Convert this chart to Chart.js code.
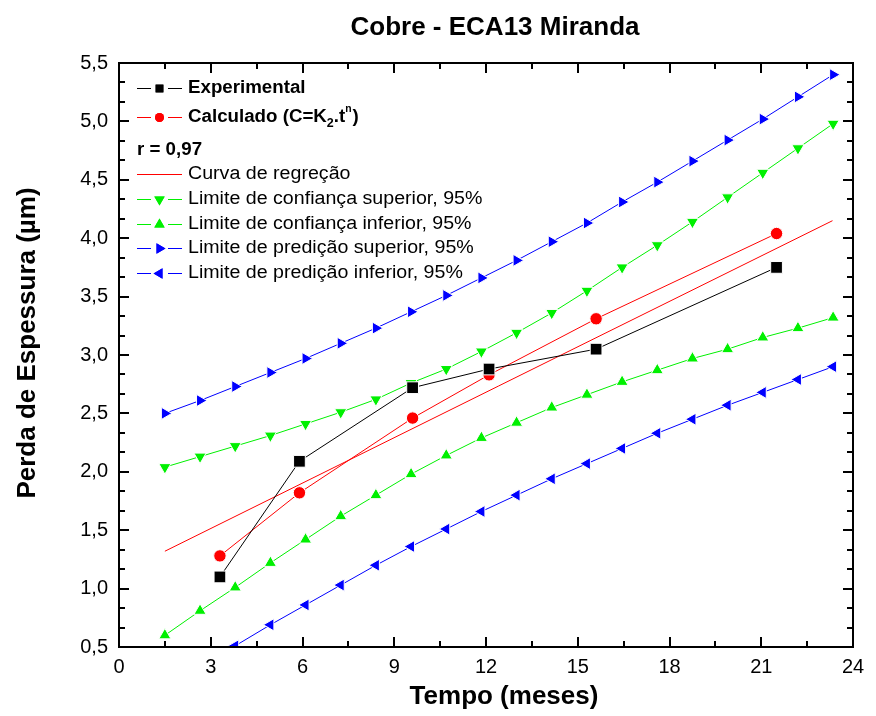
<!DOCTYPE html>
<html>
<head>
<meta charset="utf-8">
<title>Cobre - ECA13 Miranda</title>
<script src="https://cdn.jsdelivr.net/npm/chart.js@4/dist/chart.umd.min.js"></script>
<style>
  html, body { margin: 0; padding: 0; background: #fff; }
  canvas { display: block; }
</style>
</head>
<body>
<canvas id="chart" width="876" height="716"></canvas>
<script>
// measured points (tempo in meses, perda in um)
const tempoMedido = [3.3, 5.9, 9.6, 12.1, 15.6, 21.5];
const experimental = [1.10, 2.09, 2.72, 2.88, 3.05, 3.75];
const calculado = [1.28, 1.82, 2.46, 2.83, 3.31, 4.04];

// regression line end points
const tempoRegressao = [1.5, 23.33];
const regressao = [1.32, 4.15];

// x positions of the confidence / prediction band points
const tempoFaixa = [1.50, 2.65, 3.80, 4.95, 6.10, 7.25, 8.40, 9.55, 10.70, 11.85,
                    13.00, 14.15, 15.30, 16.45, 17.60, 18.75, 19.90, 21.05, 22.20, 23.35];
const confSuperior = [2.04, 2.13, 2.22, 2.31, 2.41, 2.51, 2.62, 2.76, 2.88, 3.03,
                      3.19, 3.36, 3.55, 3.75, 3.94, 4.14, 4.35, 4.56, 4.77, 4.98];
const confInferior = [0.60, 0.81, 1.01, 1.22, 1.42, 1.62, 1.80, 1.98, 2.14, 2.29,
                      2.42, 2.55, 2.66, 2.77, 2.87, 2.97, 3.05, 3.15, 3.23, 3.32];
const predSuperior = [2.50, 2.61, 2.73, 2.85, 2.97, 3.10, 3.23, 3.37, 3.51, 3.66,
                      3.81, 3.97, 4.13, 4.31, 4.48, 4.66, 4.84, 5.02, 5.21, 5.40];
const predInferior = [0.16, 0.34, 0.51, 0.69, 0.86, 1.03, 1.20, 1.36, 1.51, 1.66,
                      1.80, 1.94, 2.07, 2.20, 2.33, 2.45, 2.57, 2.68, 2.79, 2.90];

const xTickStep = 3;
const yTickStep = 0.5;

const GREEN = '#00f000';
const BLUE = '#0000ff';
const RED = '#ff0000';
const FONT = '"Liberation Sans", Arial, sans-serif';

function pairs(xs, ys) {
  return xs.map((x, i) => ({ x: x, y: ys[i] }));
}

function serie(label, xs, ys, color, style, rotation, radius) {
  return {
    label: label,
    data: pairs(xs, ys),
    borderColor: color,
    backgroundColor: color,
    borderWidth: 1,
    pointStyle: style,
    rotation: rotation,
    pointRadius: radius,
    pointBackgroundColor: color,
    pointBorderColor: '#ffffff',
    pointBorderWidth: style === false ? 0 : 1,
    tension: 0
  };
}

// draw text stretched horizontally a bit, like the original export
function drawText(ctx, text, x, y, font, sx) {
  ctx.save();
  ctx.translate(x, y);
  ctx.scale(sx, 1);
  ctx.font = font;
  ctx.fillText(text, 0, 0);
  const w = ctx.measureText(text).width * sx;
  ctx.restore();
  return w;
}

function legendMarker(ctx, style, rotation, radius, color, x, y) {
  ctx.save();
  ctx.fillStyle = color;
  ctx.strokeStyle = color;
  Chart.helpers.drawPoint(ctx, { pointStyle: style, rotation: rotation, radius: radius, borderWidth: 0 }, x, y);
  ctx.fill();
  ctx.restore();
}

const legendRows = [
  { y: 88.5, color: '#000', style: 'rect', rot: 0, r: 5.5, text: 'Experimental', bold: true },
  { y: 117.5, color: RED, style: 'circle', rot: 0, r: 4.5, text: null, bold: true },
  { y: 150, text: 'r = 0,97', bold: true, plain: true },
  { y: 174.5, color: RED, style: null, text: 'Curva de regreção' },
  { y: 199.5, color: GREEN, style: 'triangle', rot: 180, r: 6, text: 'Limite de confiança superior, 95%' },
  { y: 224.5, color: GREEN, style: 'triangle', rot: 0, r: 6, text: 'Limite de confiança inferior, 95%' },
  { y: 248.5, color: BLUE, style: 'triangle', rot: 90, r: 6, text: 'Limite de predição superior, 95%' },
  { y: 273.5, color: BLUE, style: 'triangle', rot: 270, r: 6, text: 'Limite de predição inferior, 95%' }
];

const decorPlugin = {
  id: 'decor',
  afterDraw(chart) {
    const ctx = chart.ctx;
    const area = chart.chartArea;
    const xs = chart.scales.x;
    const ys = chart.scales.y;
    ctx.save();

    // frame and inward ticks on all four sides
    ctx.strokeStyle = '#000';
    ctx.lineWidth = 2;
    ctx.strokeRect(area.left, area.top, area.right - area.left, area.bottom - area.top);
    ctx.beginPath();
    for (let k = 0; k <= 16; k++) {
      const v = k * xTickStep / 2;
      const px = Math.round(xs.getPixelForValue(v));
      const len = k % 2 === 0 ? 10 : 6;
      ctx.moveTo(px, area.bottom);
      ctx.lineTo(px, area.bottom - len);
      ctx.moveTo(px, area.top);
      ctx.lineTo(px, area.top + len);
    }
    for (let k = 0; k <= 30; k++) {
      const v = 0.5 + k * yTickStep / 3;
      const py = Math.round(ys.getPixelForValue(v));
      const len = k % 3 === 0 ? 10 : 6;
      ctx.moveTo(area.left, py);
      ctx.lineTo(area.left + len, py);
      ctx.moveTo(area.right, py);
      ctx.lineTo(area.right - len, py);
    }
    ctx.stroke();

    // titles
    ctx.fillStyle = '#000';
    ctx.textBaseline = 'middle';
    ctx.textAlign = 'center';
    ctx.font = 'bold 26px ' + FONT;
    ctx.fillText('Cobre - ECA13 Miranda', 495, 28);
    ctx.fillText('Tempo (meses)', 504, 697);
    ctx.save();
    ctx.translate(28, 343);
    ctx.rotate(-Math.PI / 2);
    ctx.fillText('Perda de Espessura (\u00b5m)', 0, 0);
    ctx.restore();

    // legend
    ctx.textAlign = 'left';
    const boldFont = 'bold 18px ' + FONT;
    const normFont = '18px ' + FONT;
    legendRows.forEach(row => {
      const tx = row.plain ? 137 : 188;
      if (!row.plain) {
        ctx.strokeStyle = row.color;
        ctx.lineWidth = 1;
        ctx.beginPath();
        if (row.style) {
          ctx.moveTo(137, row.y); ctx.lineTo(151, row.y);
          ctx.moveTo(168, row.y); ctx.lineTo(182, row.y);
        } else {
          ctx.moveTo(137, row.y); ctx.lineTo(182, row.y);
        }
        ctx.stroke();
        if (row.style) legendMarker(ctx, row.style, row.rot, row.r, row.color, 159.5, row.y);
      }
      ctx.fillStyle = '#000';
      if (row.text) {
        drawText(ctx, row.text, tx, row.y, row.bold ? boldFont : normFont, row.bold ? 1.04 : 1.09);
      } else {
        // Calculado (C=K2.t^n)
        let x = tx;
        x += drawText(ctx, 'Calculado (C=K', x, row.y, boldFont, 1.04);
        x += drawText(ctx, '2', x, row.y + 6, 'bold 12px ' + FONT, 1.04);
        x += drawText(ctx, '.t', x, row.y, boldFont, 1.04);
        x += drawText(ctx, 'n', x, row.y - 8, 'bold 10px ' + FONT, 1.04);
        drawText(ctx, ')', x + 1, row.y, boldFont, 1.04);
      }
    });
    ctx.restore();
  }
};

const datasets = [
  serie('Experimental', tempoMedido, experimental, '#000000', 'rect', 0, 8.3),
  serie('Calculado', tempoMedido, calculado, RED, 'circle', 0, 6.2),
  serie('Curva de regreção', tempoRegressao, regressao, RED, false, 0, 0),
  serie('Limite de confiança superior, 95%', tempoFaixa, confSuperior, GREEN, 'triangle', 180, 7),
  serie('Limite de confiança inferior, 95%', tempoFaixa, confInferior, GREEN, 'triangle', 0, 7),
  serie('Limite de predição superior, 95%', tempoFaixa, predSuperior, BLUE, 'triangle', 90, 7),
  serie('Limite de predição inferior, 95%', tempoFaixa, predInferior, BLUE, 'triangle', 270, 7)
];

new Chart(document.getElementById('chart'), {
  type: 'line',
  data: { datasets: datasets },
  options: {
    responsive: false,
    animation: false,
    devicePixelRatio: 1,
    layout: { padding: { top: 63, right: 23, left: 0, bottom: 0 } },
    plugins: {
      legend: { display: false },
      tooltip: { enabled: false },
      title: { display: false }
    },
    scales: {
      x: {
        type: 'linear',
        min: 0,
        max: 24,
        afterFit: s => { s.height = 69; },
        grid: { display: false, drawTicks: false },
        border: { display: false },
        ticks: {
          stepSize: xTickStep,
          padding: 8,
          color: '#000',
          font: { family: FONT, size: 20 }
        }
      },
      y: {
        type: 'linear',
        min: 0.5,
        max: 5.5,
        afterFit: s => { s.width = 119; },
        grid: { display: false, drawTicks: false },
        border: { display: false },
        ticks: {
          stepSize: yTickStep,
          padding: 11,
          color: '#000',
          font: { family: FONT, size: 20 },
          callback: v => v.toFixed(1).replace('.', ',')
        }
      }
    }
  },
  plugins: [decorPlugin]
});
</script>
</body>
</html>
